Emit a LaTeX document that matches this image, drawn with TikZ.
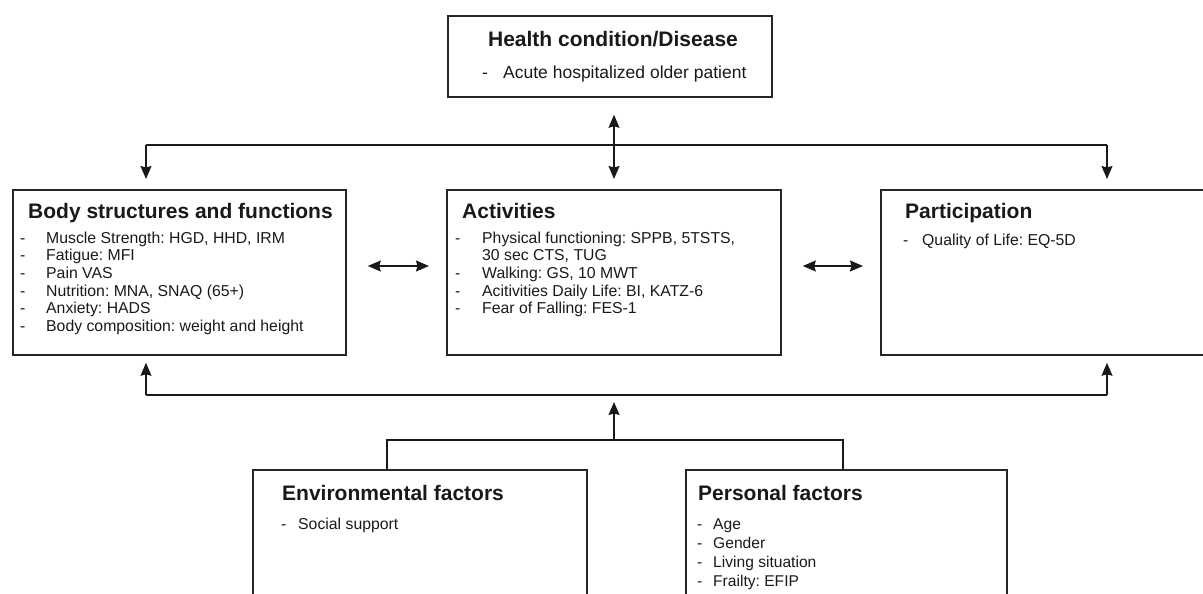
\documentclass[tikz,border=0pt]{standalone}
\usepackage{fontspec}
\setmainfont{Liberation Sans}
\usetikzlibrary{arrows.meta}
\frenchspacing
\newcommand{\ttl}{\fontsize{21}{24}\selectfont\bfseries}
\newcommand{\lst}{\fontsize{15.8}{17.7}\selectfont}
\newcommand{\lsttop}{\fontsize{17.5}{20}\selectfont}
\newcommand{\lstb}{\fontsize{15.6}{19}\selectfont}
\tikzset{
  box/.style={draw=black!85, line width=1.8pt, anchor=north west, inner sep=0pt, fill=none},
  conn/.style={draw=black!90, line width=1.3pt},
  tip/.style={-{Stealth[length=13pt,width=11pt,inset=1.5pt]}},
  tiptwo/.style={{Stealth[length=13pt,width=11pt,inset=1.5pt]}-{Stealth[length=13pt,width=11pt,inset=1.5pt]}},
  txt/.style={anchor=base west, inner sep=0pt, text=black!90},
}
\newenvironment{lt}[1]{\begin{tabular}[t]{@{}p{#1}@{}l@{}}}{\end{tabular}}
\begin{document}
\frenchspacing
\begin{tikzpicture}[x=1pt,y=-1pt]
\useasboundingbox (0,0) rectangle (1203,594);
\clip (0,0) rectangle (1203,594);
% boxes
\node[box, minimum width=324pt, minimum height=81pt] (health) at (447,15) {};
\node[box, minimum width=333pt, minimum height=165pt] (body) at (12,189) {};
\node[box, minimum width=334pt, minimum height=165pt] (act) at (446,189) {};
\node[box, minimum width=454pt, minimum height=165pt] (part) at (880,189) {};
\node[box, minimum width=334pt, minimum height=200pt] (env) at (252,469) {};
\node[box, minimum width=321pt, minimum height=200pt] (pers) at (685,469) {};
% texts
\node[anchor=base, inner sep=0pt, text=black!90, font=\ttl] (healthT) at (613,47) {Health condition/Disease};
\node[txt, font=\lsttop] (healthL) at (482,79) {\begin{lt}{21pt}-&Acute hospitalized older patient\end{lt}};

\node[txt, font=\ttl] (bodyT) at (28,218) {Body structures and functions};
\node[txt, font=\lst] (bodyL) at (20,243) {\begin{lt}{26pt}
-&Muscle Strength: HGD, HHD, IRM\\
-&Fatigue: MFI\\
-&Pain VAS\\
-&Nutrition: MNA, SNAQ (65+)\\
-&Anxiety: HADS\\
-&Body composition: weight and height
\end{lt}};

\node[txt, font=\ttl] (actT) at (462,218) {Activities};
\node[txt, font=\lst] (actL) at (455,243) {\begin{lt}{27pt}
-&Physical functioning: SPPB, 5TSTS,\\
&30 sec CTS, TUG\\
-&Walking: GS, 10 MWT\\
-&Acitivities Daily Life: BI, KATZ-6\\
-&Fear of Falling: FES-1
\end{lt}};

\node[txt, font=\ttl] (partT) at (905,218) {Participation};
\node[txt, font=\lst] (partL) at (903,245) {\begin{lt}{19pt}-&Quality of Life: EQ-5D\end{lt}};

\node[txt, font=\ttl] (envT) at (282,500) {Environmental factors};
\node[txt, font=\lst] (envL) at (281,529) {\begin{lt}{17pt}-&Social support\end{lt}};

\node[txt, font=\ttl] (persT) at (698,500) {Personal factors};
\node[txt, font=\lstb] (persL) at (697,529) {\begin{lt}{16pt}
-&Age\\
-&Gender\\
-&Living situation\\
-&Frailty: EFIP
\end{lt}};

% top connectors
\coordinate (tl) at (146,145);
\coordinate (tr) at (1107,145);
\coordinate (tc) at (614,145);
\draw[conn] (tl) -- (tr);
\draw[conn, tip, shorten >=10pt] (tl) -- (tl |- body.north);
\draw[conn, tip, shorten >=10pt] (tr) -- (tr |- part.north);
\draw[conn, tiptwo, shorten <=17pt, shorten >=10pt] (tc |- health.south) -- (tc |- act.north);

% side arrows
\coordinate (ba) at (356,266);
\coordinate (ap) at (791,266);
\draw[conn, tiptwo, shorten <=21pt, shorten >=17pt] (body.east |- ba) -- (act.west |- ba);
\draw[conn, tiptwo, shorten <=21pt, shorten >=17pt] (act.east |- ap) -- (part.west |- ap);

% bottom connectors
\coordinate (bl) at (146,395);
\coordinate (br) at (1107,395);
\coordinate (bc) at (614,395);
\coordinate (mid) at (614,440);
\draw[conn] (bl) -- (br);
\draw[conn, tip, shorten >=7pt] (bl) -- (bl |- body.south);
\draw[conn, tip, shorten >=7pt] (br) -- (br |- part.south);
\draw[conn, tip, shorten >=7pt] (mid) -- (bc);
\coordinate (ej) at (387,440);
\coordinate (pj) at (843,440);
\draw[conn] (ej |- env.north) -- (ej) -- (pj) -- (pj |- pers.north);
\end{tikzpicture}
\end{document}
